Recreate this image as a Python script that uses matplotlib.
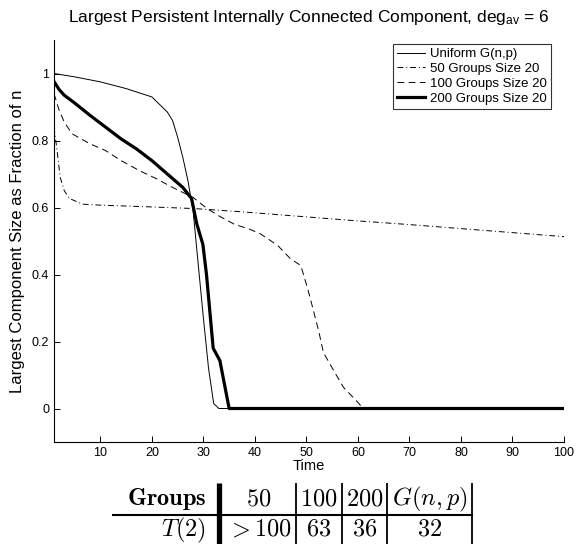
import numpy as np
import matplotlib
matplotlib.use('Agg')
import matplotlib.pyplot as plt

plt.rcParams['font.family'] = ['Liberation Sans', 'DejaVu Sans']
plt.rcParams['mathtext.fontset'] = 'custom'
plt.rcParams['mathtext.rm'] = 'Liberation Sans'
plt.rcParams['mathtext.it'] = 'Liberation Sans'

# curves
t_unif = [1, 5, 10, 15, 20, 21, 22, 23, 24, 25, 26, 27, 28, 29, 30, 31, 32, 33, 100]
y_unif = [1.0, 0.99, 0.975, 0.955, 0.93, 0.915, 0.90, 0.885, 0.86, 0.81, 0.75, 0.68,
          0.59, 0.43, 0.27, 0.12, 0.015, 0.0, 0.0]

t_50 = [1, 1.6, 2.2, 3, 4, 6.5, 10, 17.6, 28, 36.7, 50, 60, 70, 80, 90, 100]
y_50 = [0.84, 0.77, 0.69, 0.65, 0.627, 0.61, 0.607, 0.603, 0.597, 0.588, 0.572,
        0.560, 0.549, 0.537, 0.525, 0.513]

t_100 = [1, 1.5, 2, 3, 4.5, 8, 11, 14, 17.6, 21, 24, 28, 30.7, 33, 36, 39, 41, 44.4,
         46.9, 48.9, 50.2, 51.4, 52.4, 53.3, 55.3, 57.2, 60, 61, 100]
y_100 = [0.94, 0.915, 0.89, 0.855, 0.82, 0.79, 0.77, 0.74, 0.71, 0.685, 0.66, 0.63,
         0.597, 0.575, 0.55, 0.535, 0.522, 0.487, 0.447, 0.427, 0.36, 0.29, 0.23,
         0.167, 0.113, 0.063, 0.018, 0.0, 0.0]

t_200 = [1, 2, 3, 5, 8, 11, 14, 17, 20, 23, 26, 27.7, 28.7, 29.9, 30.6, 31.9, 33.2, 35, 100]
y_200 = [0.976, 0.952, 0.935, 0.912, 0.875, 0.84, 0.805, 0.775, 0.74, 0.70, 0.66, 0.627,
         0.552, 0.49, 0.40, 0.18, 0.143, 0.0, 0.0]

labels = ['Uniform G(n,p)', '50 Groups Size 20', '100 Groups Size 20', '200 Groups Size 20']

# table under the plot
tab_head = r'$\mathbf{Groups}$'
tab_cols = ['$50$', '$100$', '$200$', '$G(n,p)$']
tab_row = '$T(2)$'
tab_vals = ['$>100$', '$63$', '$36$', '$32$']

W, H = 577, 544
fig = plt.figure(figsize=(W / 100, H / 100), dpi=100)
ax = fig.add_axes([54 / W, 1 - 442 / H, 510 / W, 402 / H])

ax.plot(t_unif, y_unif, color='k', lw=0.7, label=labels[0])
ax.plot(t_50, y_50, color='k', lw=0.7, dashes=(6, 3, 1, 3), label=labels[1])
ax.plot(t_100, y_100, color='k', lw=0.7, dashes=(7, 4.5), label=labels[2])
ax.plot(t_200, y_200, color='k', lw=2.3, label=labels[3])

ax.set_xlim(1, 100)
ax.set_ylim(-0.1, 1.1)
ax.set_xticks(np.arange(10, 101, 10))
ax.set_yticks([0, 0.2, 0.4, 0.6, 0.8, 1])
ax.set_yticklabels(['0', '0.2', '0.4', '0.6', '0.8', '1'])
ax.spines['top'].set_visible(False)
ax.spines['right'].set_visible(False)
ax.tick_params(direction='in', length=4, labelsize=9, width=0.7)
for s in ['left', 'bottom']:
    ax.spines[s].set_linewidth(0.8)

ax.set_xlabel('Time', fontsize=10.5, labelpad=0)
ax.set_ylabel('Largest Component Size as Fraction of n', fontsize=12, labelpad=5)
ax.set_title(r'Largest Persistent Internally Connected Component, deg$_{\mathrm{av}}$ = 6',
             fontsize=12.5, pad=13)

leg = ax.legend(loc='upper right', bbox_to_anchor=(0.975, 0.99), borderaxespad=0,
                fontsize=9.5, frameon=True, fancybox=False, edgecolor='k',
                handlelength=2.1, handletextpad=0.4, labelspacing=0.2, borderpad=0.3)
leg.get_frame().set_linewidth(0.8)

# table drawn in pixel coords
tx = fig.add_axes([0, 0, 1, 1])
tx.set_xlim(0, W)
tx.set_ylim(H, 0)
tx.axis('off')
tx.patch.set_alpha(0)

tx.plot([219, 219], [483, H], color='k', lw=3.8, solid_capstyle='butt')
for xv in [296, 342, 387, 472]:
    tx.plot([xv, xv], [483, H], color='k', lw=1.3, solid_capstyle='butt')
tx.plot([112, 473], [515, 515], color='k', lw=1.5, solid_capstyle='butt')

fs = 17.5
col_x = [259, 319, 365, 430]
tx.text(206, 499, tab_head, ha='right', va='center', fontsize=fs, math_fontfamily='cm')
tx.text(206, 530, tab_row, ha='right', va='center', fontsize=fs, math_fontfamily='cm')
for xc, c, v in zip(col_x, tab_cols, tab_vals):
    tx.text(xc, 499, c, ha='center', va='center', fontsize=fs, math_fontfamily='cm')
    tx.text(xc, 530, v, ha='center', va='center', fontsize=fs, math_fontfamily='cm')

fig.savefig('out.png', dpi=100)
